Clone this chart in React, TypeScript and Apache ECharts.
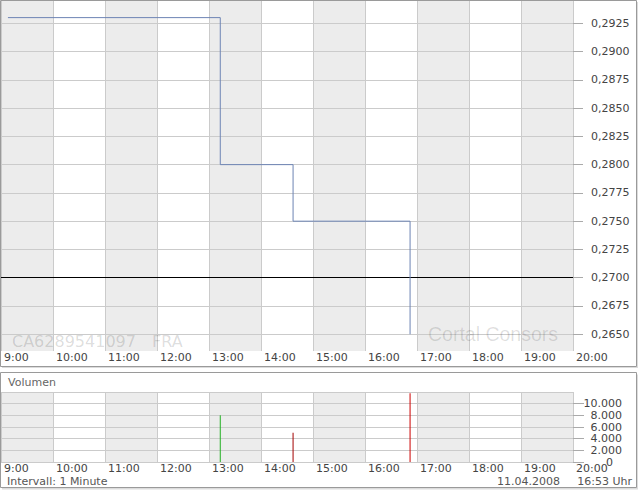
import React, { useEffect, useRef } from 'react';
import * as echarts from 'echarts';

// ---- data ----
const hourMin = 9;
const hourMax = 20;
const priceTimes = ['09:08', '13:13', '14:37', '16:52'];
const priceValues = [0.293, 0.28, 0.275, 0.265];
const referencePrice = 0.27;
const priceTicks = [0.265, 0.2675, 0.27, 0.2725, 0.275, 0.2775, 0.28, 0.2825, 0.285, 0.2875, 0.29, 0.2925];
const volumeTimes = ['13:13', '14:37', '16:52'];
const volumeValues = [8000, 5000, 11800];
const volumeColors = ['#22b022', '#a40000', '#cc0000'];
const isinText = 'CA6289541097';
const exchangeText = 'FRA';
const brandText = 'Cortal Consors';
const volumeTitle = 'Volumen';
const intervalText = 'Intervall: 1 Minute';
const dateText = '11.04.2008';
const stampText = '16:53 Uhr';

const toHours = (s: string) => {
  const [h, m] = s.split(':').map(Number);
  return h + m / 60;
};

const FONT = 'DejaVu Sans';
const gridColor = '#cbcbcb';
const shade = '#ececec';
const labelColor = '#444';

export default function App() {
  const ref = useRef<HTMLDivElement>(null);
  useEffect(() => {
    if (!ref.current) return;
    const chart = echarts.init(ref.current, null, { renderer: 'svg' });
    const xBase = (gridIndex: number, margin: number) => ({
      type: 'value',
      gridIndex,
      z: 0,
      min: hourMin,
      max: hourMax,
      interval: 1,
      axisLine: { show: false },
      axisTick: { show: false },
      splitLine: { show: true, lineStyle: { color: gridColor, width: 1 } },
      splitArea: { show: true, areaStyle: { color: [shade, '#ffffff'] } },
      axisLabel: {
        formatter: (v: number) => `${v}:00`,
        align: 'left',
        padding: [0, 0, 0, 3],
        margin,
        color: labelColor,
        fontSize: 11,
        fontFamily: FONT,
      },
    });
    const option: any = {
      animation: false,
      backgroundColor: '#ffffff',
      textStyle: { fontFamily: FONT },
      grid: [
        { left: 1, top: 1, width: 572, height: 350 },
        { left: 1, top: 392, width: 572, height: 70 },
      ],
      xAxis: [xBase(0, 1), xBase(1, 1)],
      yAxis: [
        {
          type: 'value',
          gridIndex: 0,
          z: 1,
          position: 'right',
          min: 0.26352,
          max: 0.29447,
          axisLine: { show: false },
          axisTick: { show: true, length: 10, lineStyle: { color: '#aaaaaa' }, customValues: priceTicks },
          axisLabel: {
            customValues: priceTicks,
            formatter: (v: number) => v.toFixed(4).replace('.', ','),
            margin: 18,
            color: labelColor,
            fontSize: 11,
            fontFamily: FONT,
          },
          splitLine: { show: true, lineStyle: { color: gridColor, width: 1 } },
        },
        {
          type: 'value',
          gridIndex: 1,
          z: 1,
          position: 'right',
          min: 0,
          max: 12000,
          interval: 2000,
          axisLine: { show: false },
          axisTick: { show: true, length: 11, lineStyle: { color: '#aaaaaa' } },
          axisLabel: {
            showMaxLabel: false,
            showMinLabel: true,
            align: 'right',
            margin: 49,
            color: labelColor,
            fontSize: 11,
            fontFamily: FONT,
            formatter: (v: number) =>
              v === 0 ? '{z|0}' : String(v).replace(/\B(?=(\d{3})+(?!\d))/g, '.'),
            rich: { z: { padding: [0, 9, 0, 0], color: labelColor, fontSize: 11, fontFamily: FONT } },
          },
          splitLine: { show: true, lineStyle: { color: gridColor, width: 1 } },
        },
      ],
      series: [
        {
          type: 'line',
          xAxisIndex: 0,
          yAxisIndex: 0,
          step: 'end',
          showSymbol: false,
          symbol: 'none',
          lineStyle: { color: '#6d84b4', width: 1 },
          data: priceTimes.map((t, i) => [toHours(t), priceValues[i]]),
          markLine: {
            silent: true,
            symbol: 'none',
            label: { show: false },
            lineStyle: { color: '#000000', width: 1, type: 'solid' },
            data: [{ yAxis: referencePrice }],
          },
          z: 5,
        },
        {
          type: 'bar',
          xAxisIndex: 1,
          yAxisIndex: 1,
          barWidth: 1,
          data: volumeTimes.map((t, i) => ({
            value: [toHours(t), volumeValues[i]],
            itemStyle: { color: volumeColors[i] },
          })),
          z: 5,
        },
      ],
      graphic: [
        { type: 'rect', z: -3, silent: true, shape: { x: 2, y: 2, width: 636, height: 366 }, style: { fill: '#dcdcdc' } },
        { type: 'rect', z: -2, silent: true, shape: { x: 0.5, y: 0.5, width: 636, height: 366 }, style: { fill: '#ffffff', stroke: '#9a9a9a', lineWidth: 1 } },
        { type: 'rect', z: -3, silent: true, shape: { x: 2, y: 374.5, width: 636, height: 115 }, style: { fill: '#dcdcdc' } },
        { type: 'rect', z: -2, silent: true, shape: { x: 0.5, y: 372.5, width: 636, height: 115 }, style: { fill: '#ffffff', stroke: '#9a9a9a', lineWidth: 1 } },
        { type: 'text', z: 10, silent: true, x: 12, y: 341, style: { text: isinText, fill: 'rgba(0,0,0,0.15)', font: `16px "${FONT}"`, verticalAlign: 'middle' } },
        { type: 'text', z: 10, silent: true, x: 152, y: 341, style: { text: exchangeText, fill: 'rgba(0,0,0,0.15)', font: `16px "${FONT}"`, verticalAlign: 'middle' } },
        { type: 'text', z: 10, silent: true, x: 428, y: 334, style: { text: brandText, fill: 'rgba(0,0,0,0.13)', font: '19.5px "Liberation Sans"', verticalAlign: 'middle' } },
        {
          type: 'group', z: 10, silent: true,
          children: [
            { type: 'rect', shape: { x: 401, y: 331, width: 3, height: 14 }, style: { fill: 'rgba(0,0,0,0.10)' } },
            { type: 'rect', shape: { x: 406, y: 325, width: 3, height: 20 }, style: { fill: 'rgba(0,0,0,0.10)' } },
            { type: 'rect', shape: { x: 411, y: 323, width: 3, height: 22 }, style: { fill: 'rgba(0,0,0,0.10)' } },
            { type: 'rect', shape: { x: 415, y: 328, width: 2, height: 17 }, style: { fill: 'rgba(0,0,0,0.10)' } },
          ],
        },
        { type: 'text', silent: true, x: 8, y: 382.5, style: { text: volumeTitle, fill: '#666', font: `11px "${FONT}"`, verticalAlign: 'middle' } },
        { type: 'text', silent: true, x: 7, y: 481, style: { text: intervalText, fill: '#555', font: `11px "${FONT}"`, verticalAlign: 'middle' } },
        { type: 'text', silent: true, x: 560, y: 481, style: { text: dateText, fill: '#555', font: `11px "${FONT}"`, verticalAlign: 'middle', align: 'right' } },
        { type: 'text', silent: true, x: 632, y: 481, style: { text: stampText, fill: '#555', font: `11px "${FONT}"`, verticalAlign: 'middle', align: 'right' } },
      ],
    };
    chart.setOption(option);
    return () => chart.dispose();
  }, []);
  return <div ref={ref} style={{ position: 'absolute', left: 0, top: 0, width: 640, height: 492 }} />;
}
